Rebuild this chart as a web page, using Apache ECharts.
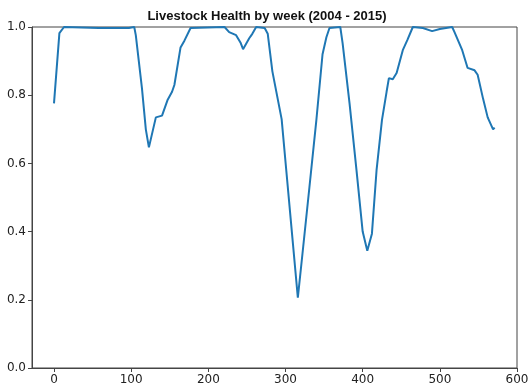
<!DOCTYPE html>
<html>
<head>
    <meta charset="utf-8">
    <style>
        html, body {
            width: 100%;
            height: 100%;
            margin: 0;
            background: #fff;
        }

        #chart-panel {
            width: 532px;
            height: 389px;
        }
    </style>
    <script src="https://cdn.jsdelivr.net/npm/echarts@6/dist/echarts.min.js"></script>
</head>
<body>
<div id="chart-panel"></div>
<script type="text/javascript">

  // week index and health value
  var weeks = [0, 7, 13, 58, 97, 104, 106, 114, 119, 123, 132, 140, 147, 153, 156, 164, 169, 177,
    221, 227, 236, 242, 245, 253, 257, 262, 273, 277, 283, 295, 301, 309, 316, 322, 331, 340,
    348, 353, 357, 371, 374, 383, 392, 400, 406, 412, 418, 425, 431, 434, 439, 444, 452, 458,
    465, 478, 490, 500, 516, 519, 529, 536, 545, 549, 556, 562, 569, 571];
  var health = [0.776, 0.982, 1.0, 0.997, 0.997, 1.0, 0.976, 0.82, 0.70, 0.647, 0.735, 0.74,
    0.785, 0.81, 0.83, 0.94, 0.96, 0.997, 1.0, 0.985, 0.976, 0.953, 0.935, 0.967, 0.98, 1.0,
    0.997, 0.98, 0.87, 0.73, 0.58, 0.38, 0.206, 0.335, 0.53, 0.727, 0.92, 0.97, 0.997, 1.0,
    0.953, 0.776, 0.58, 0.40, 0.344, 0.394, 0.58, 0.727, 0.81, 0.85, 0.847, 0.865, 0.932,
    0.962, 1.0, 0.997, 0.988, 0.994, 1.0, 0.985, 0.932, 0.88, 0.873, 0.86, 0.79, 0.735, 0.70, 0.705];
  var xTicks = [0, 100, 200, 300, 400, 500, 600];

  var myChart = echarts.init(document.getElementById('chart-panel'));

  var spine = {show: true, onZero: false, lineStyle: {color: '#444', width: 1}};
  var labelFont = {color: '#222', fontSize: 12, fontFamily: 'DejaVu Sans'};

  var option = {
    animation: false,
    title: {
      text: 'Livestock Health by week (2004 - 2015)',
      left: 262,
      textAlign: 'center',
      top: 5,
      textStyle: {fontSize: 13, fontWeight: 'bold', fontFamily: 'Liberation Sans', color: '#111'}
    },
    // grid border stands in for the top and right spines
    grid: {left: 32, right: 15, top: 27, bottom: 21, show: true, borderColor: '#444', borderWidth: 1,
      backgroundColor: 'transparent'},
    xAxis: {
      type: 'value',
      min: -28.5,
      max: 600,
      axisLine: spine,
      axisTick: {show: true, length: 4, customValues: xTicks, lineStyle: {color: '#444'}},
      axisLabel: Object.assign({customValues: xTicks, margin: 6}, labelFont),
      splitLine: {show: false}
    },
    yAxis: {
      type: 'value',
      min: 0,
      max: 1,
      interval: 0.2,
      axisLine: spine,
      axisTick: {show: true, length: 4, lineStyle: {color: '#444'}},
      axisLabel: Object.assign({margin: 6, formatter: function (v) { return v.toFixed(1); }}, labelFont),
      splitLine: {show: false}
    },
    series: [{
      name: 'health',
      type: 'line',
      showSymbol: false,
      smooth: false,
      clip: true,
      lineStyle: {color: '#1f77b4', width: 2},
      data: weeks.map(function (w, i) { return [w, health[i]]; })
    }]
  };

  myChart.setOption(option);
</script>
</body>
</html>
